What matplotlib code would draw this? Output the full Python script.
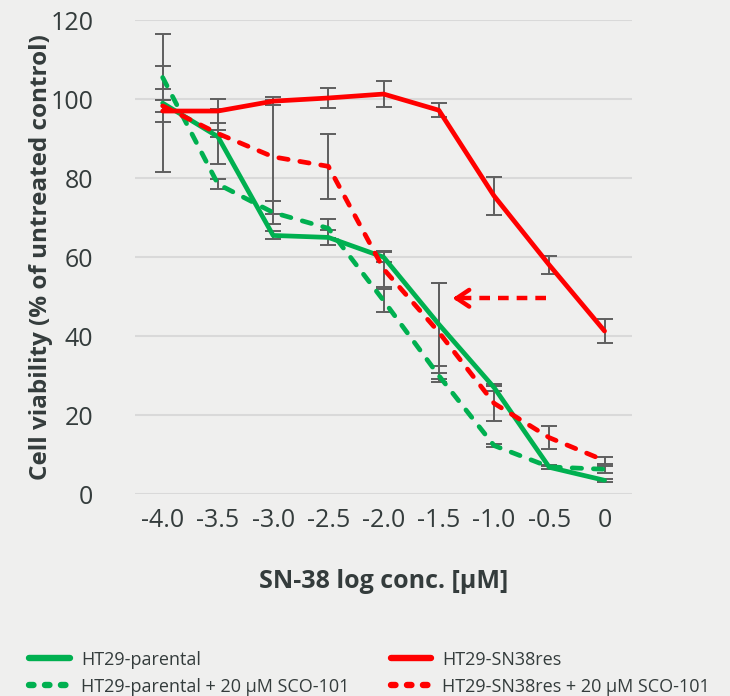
import matplotlib.pyplot as plt
import numpy as np

plt.rcParams['font.family'] = ['Open Sans', 'DejaVu Sans']

# log concentration of SN-38 (uM)
conc = [-4.0, -3.5, -3.0, -2.5, -2.0, -1.5, -1.0, -0.5, 0.0]
conc_labels = ['-4.0', '-3.5', '-3.0', '-2.5', '-2.0', '-1.5', '-1.0', '-0.5', '0']

par = [99.0, 90.5, 65.5, 65.0, 60.0, 43.0, 27.0, 6.8, 3.5]
par_err = [17.5, 7.0, 1.0, 2.0, 1.3, 10.5, 1.0, 0.4, 0.3]

par_sco = [105.5, 78.5, 71.3, 67.3, 49.0, 30.0, 12.3, 6.9, 6.3]
par_sco_err = [3.0, 1.3, 2.8, 2.4, 3.0, 0.8, 0.4, 0.5, 0.9]

res = [97.0, 97.0, 99.5, 100.3, 101.3, 97.2, 75.5, 58.0, 41.3]
res_err = [2.7, 3.0, 1.0, 2.6, 3.2, 1.8, 4.9, 2.2, 3.0]

res_sco = [98.3, 91.3, 85.4, 83.0, 57.0, 41.0, 23.0, 14.3, 8.5]
res_sco_err = [1.5, 1.0, 14.5, 8.2, 4.5, 12.5, 4.4, 2.9, 0.8]

arrow_y = 49.6
arrow_from = -0.53
arrow_to = -1.40

green = '#00b050'
red = '#ff0000'
bg = '#efefee'
txt = '#343c3c'
dash = (0, (2.0, 2.5))

fig = plt.figure(figsize=(7.3, 6.96), dpi=100, facecolor=bg)
ax = fig.add_axes([0.185, 0.29, 0.681, 0.681], facecolor=bg)

def series(y, e, color, ls, label):
    ax.errorbar(conc, y, yerr=e, fmt='none', ecolor='#5f5f5f', elinewidth=1.4,
                capsize=6, capthick=1.4, zorder=2)
    ax.plot(conc, y, color=color, lw=3.4, ls=ls, dash_capstyle='round',
            solid_capstyle='round', label=label, zorder=3)

series(par, par_err, green, '-', 'HT29-parental')
series(par_sco, par_sco_err, green, dash, 'HT29-parental + 20 µM SCO-101')
series(res, res_err, red, '-', 'HT29-SN38res')
series(res_sco, res_sco_err, red, dash, 'HT29-SN38res + 20 µM SCO-101')

# arrow
ax.plot([arrow_from, arrow_to + 0.08], [arrow_y, arrow_y], color=red, lw=3.2,
        ls=(0, (2.4, 1.8)), zorder=4)
ax.annotate('', xy=(arrow_to, arrow_y), xytext=(arrow_to + 0.12, arrow_y),
            arrowprops=dict(arrowstyle='->,head_length=0.9,head_width=0.6',
                            color=red, lw=3.2, capstyle='round', joinstyle='round'),
            zorder=4)

ax.set_xlim(-4.25, 0.25)
ax.set_ylim(0, 120)
ax.set_yticks(np.arange(0, 121, 20))
ax.set_xticks(conc)
ax.set_xticklabels(conc_labels)
ax.grid(axis='y', color='#d9d9d9', lw=1.5)
ax.set_axisbelow(True)
for s in ax.spines.values():
    s.set_visible(False)
ax.tick_params(length=0, labelsize=18, colors=txt, pad=10)
ax.tick_params(axis='y', pad=30)

ax.set_xlabel('SN-38 log conc. [µM]', fontsize=18, fontweight='bold', color=txt, labelpad=26)
ax.set_ylabel('Cell viability (% of untreated control)', fontsize=17.5, fontweight='bold',
              color=txt)
ax.yaxis.set_label_coords(-0.166, 0.5)

h, l = ax.get_legend_handles_labels()
leg = fig.legend(h, l, ncol=2,
                 loc='lower left', bbox_to_anchor=(0.018, -0.023), frameon=False,
                 fontsize=13, handlelength=2.25, handletextpad=0.6,
                 columnspacing=2.3, labelspacing=0.5)
for t in leg.get_texts():
    t.set_color(txt)
for ln in leg.get_lines():
    ln.set_linewidth(4.6)
    if ln.get_linestyle() != '-':
        ln.set_linestyle((0, (0.7, 1.8)))
        ln.set_dash_capstyle('round')

fig.savefig('out.png', dpi=100, facecolor=bg)
